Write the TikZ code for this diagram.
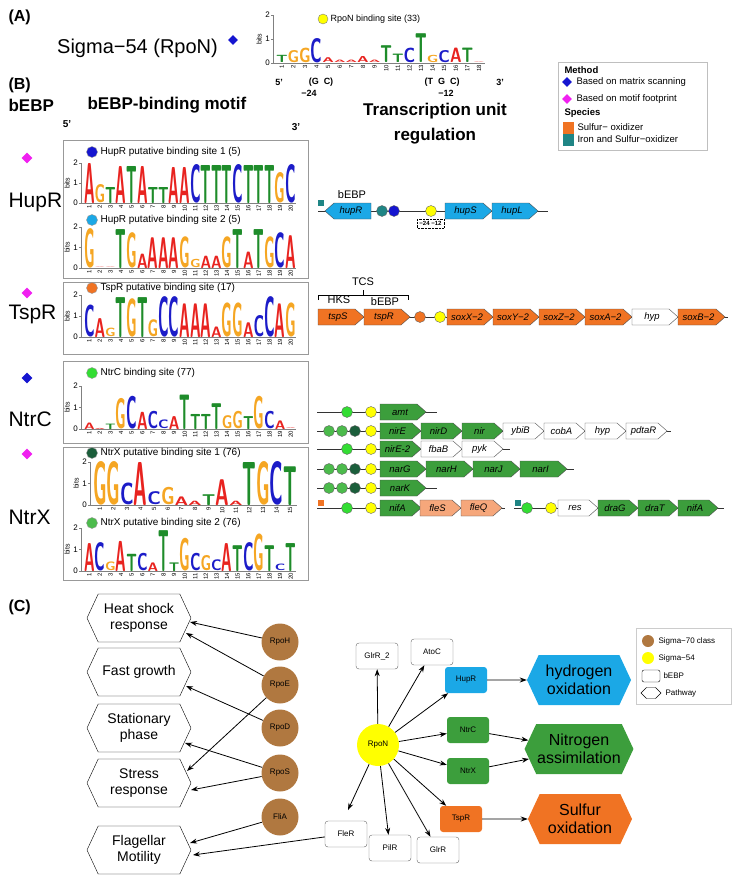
\documentclass[tikz,border=0pt]{standalone}
\usepackage{fontspec}
\setmainfont{Liberation Sans}
\usetikzlibrary{shapes.symbols,shapes.geometric,arrows.meta}
\definecolor{cA}{HTML}{E8231F}\definecolor{cC}{HTML}{1C1CC8}\definecolor{cG}{HTML}{F5A623}\definecolor{cT}{HTML}{1E8C2A}
\definecolor{hup}{HTML}{1BA8E6}\definecolor{sox}{HTML}{F07323}\definecolor{ntr}{HTML}{3C9E3C}\definecolor{salm}{HTML}{F6A77B}
\definecolor{teal}{HTML}{1F8585}\definecolor{bgreen}{HTML}{33DD33}\definecolor{mgreen}{HTML}{4CBB4C}\definecolor{dgreen}{HTML}{1B5E3B}
\definecolor{brown}{HTML}{B07840}\definecolor{ylw}{HTML}{FFFF00}\definecolor{magenta}{HTML}{F020F0}\definecolor{dblue}{HTML}{1515D0}
\newcommand\Logo[5]{\foreach \l/\h [count=\i] in {#5}{%
 \pgfmathsetmacro\hh{max(\h*#4,0.4)}\pgfmathsetmacro\xx{#1+(\i-1)*#3}%
 \node[inner sep=0,outer sep=0,anchor=south west] at (\xx,#2) {\resizebox{#3pt}{\hh pt}{\color{c\l}\sffamily\bfseries\l}};}}
\newcommand\Axis[5]{% x0 base bit ncol colw
 \draw[gray] (#1-3,#2)--(#1-3,#2-2*#3);
 \foreach \k in {0,1,2}{\draw[gray] (#1-5,#2-\k*#3)--(#1-3,#2-\k*#3);
  \node[font=\fontsize{8}{8}\selectfont,anchor=east,inner sep=1pt] at (#1-5,#2-\k*#3) {\k};}
 \node[rotate=90,font=\fontsize{7}{7}\selectfont] at (#1-17,#2-#3) {bits};
 \draw[gray] (#1-3,#2)--(#1+#4*#5,#2);
 \foreach \k in {1,...,#4}{\node[rotate=90,anchor=east,font=\fontsize{6}{6}\selectfont,inner sep=1pt] at ({#1+(\k-0.5)*#5},#2+1) {\k};}}
\newcommand\Gene[5]{\draw[fill=#4,draw=black!70] (#1,#2-8)--(#1+#3-9,#2-8)--(#1+#3,#2)--(#1+#3-9,#2+8)--(#1,#2+8)--cycle;
 \node[font=\itshape\fontsize{9.5}{9.5}\selectfont] at (#1+#3/2-3,#2) {#5};}
\newcommand\Site[3]{\draw[fill=#3,draw=black!60] (#1,#2) circle (5.5);}
\tikzset{hx/.style={signal,signal to=west and east,draw,signal pointer angle=130,minimum width=104pt,minimum height=48pt,align=center,font=\fontsize{14}{16}\selectfont,inner sep=1pt},
 sig/.style={circle,fill=brown,minimum size=37pt,inner sep=0,font=\fontsize{8}{8}\selectfont},
 be/.style={draw=black!60,rounded corners=3pt,minimum width=42pt,minimum height=26pt,font=\fontsize{8}{8}\selectfont},
 ar/.style={-{Stealth[length=7pt,width=5pt]},thick},
 bx/.style={draw=black!40,thick}}
\begin{document}
\begin{tikzpicture}[x=1pt,y=-1pt]
\useasboundingbox (0,0) rectangle (737,883);
% (A)
\node[anchor=west,font=\bfseries\fontsize{16}{16}\selectfont] at (5,17) {(A)};
\node[anchor=west,font=\fontsize{20}{20}\selectfont,inner sep=0] (sigA) at (57,48) {Sigma−54 (RpoN)};
\node[diamond,fill=dblue,inner sep=0,minimum size=10pt] (dA) at (233,40) {};
\Axis{276}{63}{24}{18}{11.6}
\Logo{276}{63}{11.6}{24}{T/0.3,G/0.5,G/0.6,C/1.0,A/0.2,A/0.1,A/0.1,A/0.25,A/0.1,T/0.7,T/0.35,C/0.6,T/1.2,G/0.3,C/0.5,A/0.6,T/0.6,A/0.02}
\draw[fill=ylw,draw=black!50] (323,19) circle (5);
\node[anchor=west,font=\fontsize{9}{9}\selectfont] at (327,19) {RpoN binding site (33)};
\begin{scope}[font=\bfseries\fontsize{9}{9}\selectfont]
\node at (279,82) {5'};\node at (321,82) {(G\ \ C)};\node at (309,93) {−24};
\node at (442,82) {(T\ \ G\ \ C)};\node at (446,93) {−12};\node at (500,82) {3'};
\end{scope}
% legend top
\draw[draw=black!25] (558,62) rectangle (707,150);
\begin{scope}[font=\fontsize{9.5}{9.5}\selectfont]
\node[anchor=west,font=\bfseries\fontsize{9.5}{9.5}\selectfont] at (561,70) {Method};
\node[diamond,fill=dblue,inner sep=0,minimum size=10pt] at (567,82) {};
\node[anchor=west] at (573,82) {Based on matrix scanning};
\node[diamond,fill=magenta,inner sep=0,minimum size=10pt] at (567,99) {};
\node[anchor=west] at (573,99) {Based on motif footprint};
\node[anchor=west,font=\bfseries\fontsize{9.5}{9.5}\selectfont] at (561,113) {Species};
\fill[sox] (563,122) rectangle (574,134);\node[anchor=west] at (574,127) {Sulfur− oxidizer};
\fill[teal] (563,134) rectangle (574,146);\node[anchor=west] at (574,139) {Iron and Sulfur−oxidizer};
\end{scope}
% (B) headers
\node[anchor=west,font=\bfseries\fontsize{16}{16}\selectfont] at (5,85) {(B)};
\begin{scope}[font=\bfseries\fontsize{17}{17}\selectfont]
\node[anchor=west] at (5,105) {bEBP};
\node[anchor=west] at (84,105) {bEBP-binding motif};
\node at (435,111) {Transcription unit};
\node at (435,136) {regulation};
\end{scope}
\node[font=\bfseries\fontsize{10}{10}\selectfont] at (67,124) {5'};
\node[font=\bfseries\fontsize{10}{10}\selectfont] at (296,127) {3'};
% boxes
\draw[bx] (63,140) rectangle (308,278);
\draw[bx] (63,282) rectangle (308,354);
\draw[bx] (63,361) rectangle (308,443);
\draw[bx] (63,447) rectangle (308,580);
% left labels
\begin{scope}[font=\fontsize{21}{21}\selectfont]
\node[anchor=west] at (5,202) {HupR};\node[anchor=west] at (5,314) {TspR};
\node[anchor=west] at (5,419) {NtrC};\node[anchor=west] at (5,517) {NtrX};
\end{scope}
\node[diamond,fill=magenta,inner sep=0,minimum size=11pt] at (27,158) {};
\node[diamond,fill=magenta,inner sep=0,minimum size=11pt] at (27,293) {};
\node[diamond,fill=dblue,inner sep=0,minimum size=11pt] at (27,378) {};
\node[diamond,fill=magenta,inner sep=0,minimum size=11pt] at (27,454) {};
% logos
\tikzset{lt/.style={anchor=west,font=\fontsize{10}{10}\selectfont}}
\draw[fill=dblue,draw=black!40] (92,152) circle (5.5);\node[lt] at (97,152) {HupR putative binding site 1 (5)};
\Axis{84}{203}{20}{20}{10.6}
\Logo{84}{203}{10.6}{20}{A/2.0,G/0.9,T/0.8,A/1.85,T/1.85,A/1.85,T/0.8,T/0.8,A/1.8,A/1.8,C/1.9,T/1.9,T/1.9,T/1.9,C/1.9,T/1.9,T/1.9,T/1.9,G/1.5,C/1.9}
\draw[fill=hup,draw=black!40] (92,220) circle (5.5);\node[lt] at (97,220) {HupR putative binding site 2 (5)};
\Axis{84}{268}{20.5}{20}{10.6}
\Logo{84}{268}{10.6}{20.5}{G/1.9,A/0.02,A/0.02,T/1.9,G/1.7,A/0.7,A/1.5,A/1.5,A/1.5,G/1.5,G/0.4,A/0.6,A/0.6,G/1.5,T/1.9,A/0.8,T/1.9,G/1.5,C/1.7,A/1.6}
\draw[fill=sox,draw=black!40] (92,288) circle (5.5);\node[lt] at (97,288) {TspR putative binding site (17)};
\Axis{84}{337}{21}{20}{10.6}
\Logo{84}{337}{10.6}{21}{C/1.5,A/0.9,G/0.4,T/1.9,G/1.8,T/1.9,G/0.8,C/1.9,C/1.9,A/1.6,A/1.6,A/1.6,A/0.5,G/1.6,G/1.6,A/0.7,C/1.0,C/1.9,A/1.6,G/1.6}
\draw[fill=bgreen,draw=black!40] (92,373) circle (5.5);\node[lt] at (97,373) {NtrC binding site (77)};
\Axis{84}{429}{21.5}{20}{10.6}
\Logo{84}{429}{10.6}{21.5}{A/0.3,A/0.05,T/0.25,G/1.4,C/1.5,A/0.8,C/0.8,C/0.4,A/0.6,T/1.6,T/0.7,T/0.7,T/1.2,G/0.6,G/0.8,T/0.6,G/1.5,C/0.8,A/0.4,A/0.03}
\draw[fill=dgreen,draw=black!40] (92,453) circle (5.5);\node[lt] at (97,453) {NtrX putative binding site 1 (76)};
\Axis{93}{505}{21.5}{15}{13.6}
\Logo{93}{505}{13.6}{21.5}{G/2.0,G/2.0,C/1.0,A/2.0,C/0.6,G/0.8,A/0.4,A/0.2,T/0.5,A/1.2,A/0.2,T/2.0,G/2.0,C/2.0,T/1.8}
\draw[fill=mgreen,draw=black!40] (92,523) circle (5.5);\node[lt] at (97,523) {NtrX putative binding site 2 (76)};
\Axis{84}{571}{21.5}{20}{10.6}
\Logo{84}{571}{10.6}{21.5}{A/1.3,C/1.3,G/0.4,A/1.4,T/0.8,C/0.8,A/0.4,T/1.9,T/0.4,G/1.5,C/0.8,G/0.7,C/0.5,A/1.3,T/1.2,C/1.3,G/1.7,T/1.2,C/0.3,T/1.3}
% transcription units
\draw[black!80] (318,211)--(548,211);
\fill[teal] (318,200) rectangle (324,206);
\draw[fill=hup,draw=black!70] (371,203)--(334,203)--(325,211)--(334,219)--(371,219)--cycle;
\node[font=\itshape\fontsize{9.5}{9.5}\selectfont] at (351,211) {hupR};
\node[font=\fontsize{11}{11}\selectfont] at (352,195) {bEBP};
\Site{382}{211}{teal}\Site{394}{211}{dblue}\Site{431}{211}{ylw}
\draw[densely dotted] (417,219) rectangle (444,228);
\node[font=\bfseries\fontsize{6}{6}\selectfont] at (430.5,223.5) {−24 −12};
\Gene{445}{211}{47}{hup}{hupS}\Gene{492}{211}{46}{hup}{hupL}
\draw[black!80] (318,317)--(728,317);
\draw (318,300)--(318,295)--(408,295)--(408,300);\draw (363,295)--(363,290);
\node[font=\fontsize{11}{11}\selectfont] at (363,282) {TCS};
\node[font=\fontsize{11}{11}\selectfont] at (339,300) {HKS};
\node[font=\fontsize{11}{11}\selectfont] at (385,302) {bEBP};
\Gene{318}{317}{46}{sox}{tspS}\Gene{364}{317}{46}{sox}{tspR}
\Site{420}{317}{sox}\Site{440}{317}{ylw}
\Gene{447}{317}{46}{sox}{soxX−2}\Gene{493}{317}{46}{sox}{soxY−2}\Gene{539}{317}{46}{sox}{soxZ−2}
\Gene{585}{317}{47}{sox}{soxA−2}\Gene{632}{317}{46}{white}{hyp}\Gene{678}{317}{47}{sox}{soxB−2}
% Ntr rows
\draw[black!80] (317,412)--(437,412);\Site{347}{412}{bgreen}\Site{371}{412}{ylw}\Gene{380}{412}{46}{ntr}{amt}
\draw[black!80] (317,431)--(671,431);\Site{329}{431}{mgreen}\Site{342}{431}{mgreen}\Site{355}{431}{dgreen}\Site{371}{431}{ylw}
\Gene{380}{431}{41}{ntr}{nirE}\Gene{421}{431}{41}{ntr}{nirD}\Gene{462}{431}{41}{ntr}{nir}\Gene{503}{431}{41}{white}{ybiB}\Gene{544}{431}{41}{white}{cobA}\Gene{585}{431}{41}{white}{hyp}\Gene{626}{431}{41}{white}{pdtaR}
\draw[black!80] (317,449)--(510,449);\Site{347}{449}{bgreen}\Site{371}{449}{ylw}
\Gene{380}{449}{41}{ntr}{nirE-2}\Gene{421}{449}{41}{white}{fbaB}\Gene{462}{449}{41}{white}{pyk}
\draw[black!80] (317,469)--(574,469);\Site{329}{469}{mgreen}\Site{342}{469}{mgreen}\Site{355}{469}{dgreen}\Site{371}{469}{ylw}
\Gene{380}{469}{46}{ntr}{narG}\Gene{426}{469}{47}{ntr}{narH}\Gene{473}{469}{47}{ntr}{narJ}\Gene{520}{469}{47}{ntr}{narI}
\draw[black!80] (317,488)--(437,488);\Site{329}{488}{mgreen}\Site{342}{488}{mgreen}\Site{355}{488}{dgreen}\Site{371}{488}{ylw}
\Gene{380}{488}{46}{ntr}{narK}
\draw[black!80] (317,508)--(505,508);\fill[sox] (318,500) rectangle (324,506);\Site{347}{508}{bgreen}\Site{371}{508}{ylw}
\Gene{380}{508}{41}{ntr}{nifA}\Gene{420}{508}{41}{salm}{fleS}\Gene{461}{508}{41}{salm}{fleQ}
\draw[black!80] (514,508)--(724,508);\fill[teal] (515,500) rectangle (521,506);\Site{527}{508}{bgreen}\Site{551}{508}{ylw}
\Gene{558}{508}{40}{white}{res}\Gene{598}{508}{40}{ntr}{draG}\Gene{638}{508}{40}{ntr}{draT}\Gene{678}{508}{40}{ntr}{nifA}
% (C)
\node[anchor=west,font=\bfseries\fontsize{16}{16}\selectfont] at (5,607) {(C)};
\node[hx] (heat) at (139,618) {Heat shock\\response};
\node[hx] (fast) at (139,672) {Fast growth};
\node[hx] (stat) at (139,728) {Stationary\\phase};
\node[hx] (stress) at (139,783) {Stress\\response};
\node[hx] (flag) at (139,850) {Flagellar\\Motility};
\node[sig] (rpoH) at (280,642) {RpoH};
\node[sig] (rpoE) at (280,685) {RpoE};
\node[sig] (rpoD) at (280,728) {RpoD};
\node[sig] (rpoS) at (280,773) {RpoS};
\node[sig] (fliA) at (280,817) {FliA};
\draw[ar] (rpoH)--(190,622);
\draw[ar] (rpoE)--(186,633);
\draw[ar] (rpoD)--(186,686);
\draw[ar] (rpoE)--(187,771);
\draw[ar] (rpoS)--(185,743);
\draw[ar] (rpoS)--(191,790);
\draw[ar] (fliA)--(190,843);
\node[circle,fill=ylw,minimum size=42pt,inner sep=0,font=\fontsize{8}{8}\selectfont] (rpoN) at (378,745) {RpoN};
\node[be] (glr2) at (377,656) {GlrR\_2};
\node[be] (atoC) at (432,652) {AtoC};
\node[be,fill=hup,draw=none] (hupR) at (466,680) {HupR};
\node[be,fill=ntr,draw=none] (ntrC) at (468,730) {NtrC};
\node[be,fill=ntr,draw=none] (ntrX) at (468,771) {NtrX};
\node[be,fill=sox,draw=none] (tspR) at (461,819) {TspR};
\node[be] (fleR) at (346,834) {FleR};
\node[be] (pilR) at (390,848) {PilR};
\node[be] (glrR) at (438,850) {GlrR};
\tikzset{hx2/.style={hx,draw=none,minimum width=104pt,minimum height=50pt,font=\fontsize{16}{18}\selectfont}}
\node[hx2,fill=hup] (h2) at (579,680) {hydrogen\\oxidation};
\node[hx2,fill=ntr] (n2) at (579,749) {Nitrogen\\assimilation};
\node[hx2,fill=sox] (s2) at (580,819) {Sulfur\\oxidation};
\draw[ar] (fleR)--(193,855);
\foreach \t in {glr2,atoC,hupR,ntrC,ntrX,tspR,pilR,glrR} \draw[ar] (rpoN)--(\t);
\draw[ar] (rpoN)--(348,810);
\draw[ar] (hupR)--(h2);\draw[ar] (ntrC)--(n2);\draw[ar] (ntrX)--(n2);\draw[ar] (tspR)--(s2);
% legend C
\draw[draw=black!20] (636,628) rectangle (731,704);
\begin{scope}[font=\fontsize{8}{8}\selectfont]
\fill[brown] (648,641) circle (6);\node[anchor=west] at (655,641) {Sigma−70 class};
\fill[ylw] (648,658) circle (6);\node[anchor=west] at (655,658) {Sigma−54};
\draw[rounded corners=2pt] (642,670) rectangle (660,682);\node[anchor=west] at (660,676) {bEBP};
\node[signal,signal to=west and east,draw,minimum width=20pt,minimum height=11pt,inner sep=0] at (651,693) {};\node[anchor=west] at (662,693) {Pathway};
\end{scope}
\end{tikzpicture}
\end{document}
